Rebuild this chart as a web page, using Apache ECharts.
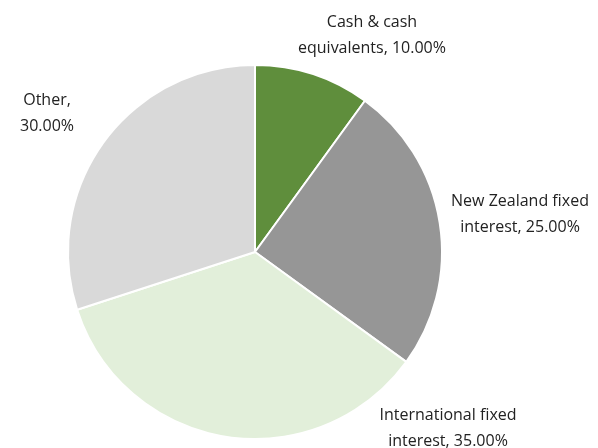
<!DOCTYPE html>
<html>
<head>
<meta charset="utf-8">
<script src="https://cdn.jsdelivr.net/npm/echarts@6/dist/echarts.min.js"></script>
<style>
  html, body { margin: 0; padding: 0; background: #fff; }
  #main { width: 598px; height: 448px; }
</style>
</head>
<body>
<div id="main"></div>
<script>
var categories = ['Cash & cash\nequivalents', 'New Zealand fixed\ninterest', 'International fixed\ninterest', 'Other'];
var values = [10, 25, 35, 30];
var colors = ['#5f8e3c', '#969696', '#e2efda', '#d9d9d9'];

// label anchor points (centre of text block)
var labelPos = [[372, 35], [520, 214], [448, 428], [47, 113]];

var chart = echarts.init(document.getElementById('main'));
var option = {
  animation: false,
  series: [{
    type: 'pie',
    center: [255, 252],
    radius: [0, 187],
    startAngle: 90,
    clockwise: true,
    itemStyle: { borderColor: '#fff', borderWidth: 2 },
    label: {
      show: true,
      position: 'outside',
      fontFamily: 'Open Sans',
      fontSize: 16,
      lineHeight: 26,
      color: '#222',
      align: 'center',
      overflow: 'none',
      formatter: function (p) {
        if (p.dataIndex === 3) return p.name + ',\n' + p.value.toFixed(2) + '%';
        return p.name + ', ' + p.value.toFixed(2) + '%';
      }
    },
    labelLine: { show: false },
    labelLayout: function (params) {
      var pos = labelPos[params.dataIndex];
      return { x: pos[0], y: pos[1], align: 'center', verticalAlign: 'middle' };
    },
    data: categories.map(function (c, i) {
      return { name: c, value: values[i], itemStyle: { color: colors[i] } };
    })
  }]
};
chart.setOption(option);
</script>
</body>
</html>
